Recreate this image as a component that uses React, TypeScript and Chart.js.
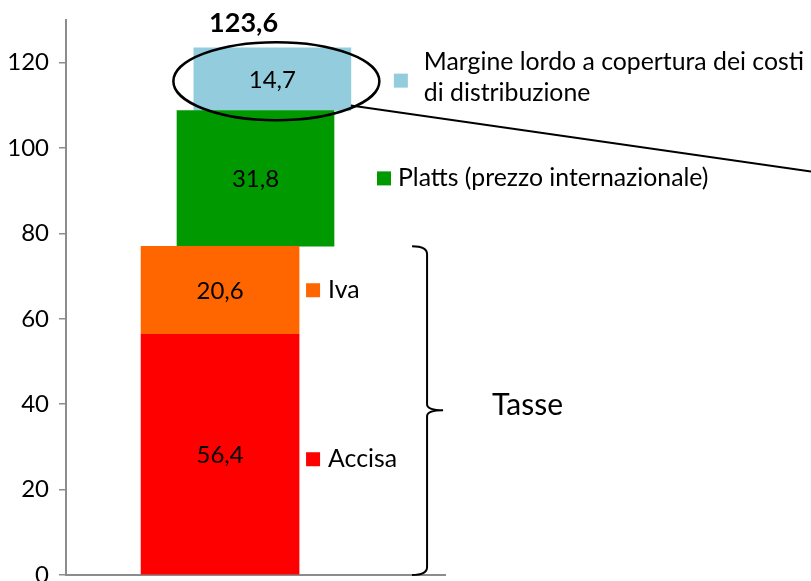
import React, { useEffect, useRef } from 'react';
import { Chart, registerables } from 'chart.js';

Chart.register(...registerables);

// ---- data ----
const segmentNames = ['Accisa', 'Iva', 'Platts (prezzo internazionale)', 'Margine lordo a copertura dei costi di distribuzione'];
const legendLines = [['Accisa'], ['Iva'], ['Platts (prezzo internazionale)'], ['Margine lordo a copertura dei costi', 'di distribuzione']];
const segmentValues = [56.4, 20.6, 31.8, 14.7];
const valueLabels = ['56,4', '20,6', '31,8', '14,7'];
const totalLabel = '123,6';
const groupLabel = 'Tasse';
const yTickValues = [0, 20, 40, 60, 80, 100, 120];

// ---- styles / layout ----
const colors = ['#FF0000', '#FF6600', '#009900', '#93CDDD'];
const barCenters = [-0.187, -0.187, 0, 0.089];
const barThick = [158, 158, 157, 157];
const legendGap = [7, 7, 43, 43];
const legendTextGap = [22, 22, 21, 30];
const FONT = 'Lato, "Open Sans", sans-serif';

const W = 811;
const H = 581;

export default function App() {
  const ref = useRef<HTMLCanvasElement>(null);

  useEffect(() => {
    if (!ref.current) return;
    let acc = 0;
    const ranges = segmentValues.map((v) => {
      const r = [acc, acc + v];
      acc += v;
      return r;
    });

    const annot = {
      id: 'annot',
      afterDatasetsDraw(chart: any) {
        const ctx = chart.ctx as CanvasRenderingContext2D;
        const yS = chart.scales.y;
        const xS = chart.scales.x;
        const els = segmentValues.map((_, i) => chart.getDatasetMeta(i).data[0].getProps(['x', 'y', 'base', 'width'], true));
        ctx.save();
        ctx.fillStyle = '#000';
        ctx.textBaseline = 'middle';
        // value labels
        ctx.textAlign = 'center';
        ctx.font = `24px ${FONT}`;
        els.forEach((el: any, i: number) => {
          ctx.fillText(valueLabels[i], el.x, (el.y + el.base) / 2 + 1);
        });
        // total label
        ctx.font = `bold 27px ${FONT}`;
        ctx.fillText(totalLabel, xS.getPixelForValue(-0.063), els[3].y - 24);
        // legend entries
        ctx.textAlign = 'left';
        ctx.font = `24.8px ${FONT}`;
        els.forEach((el: any, i: number) => {
          const right = el.x + el.width / 2;
          const sx = right + legendGap[i];
          const mid = (el.y + el.base) / 2 + (i === 0 ? 5 : i === 3 ? 1.5 : 0);
          ctx.fillStyle = colors[i];
          ctx.fillRect(sx, mid - 7, 14, 14);
          ctx.fillStyle = '#000';
          const lines = legendLines[i];
          const lh = 31;
          lines.forEach((ln, k) => {
            const ly = mid + (k - (lines.length - 1) / 2) * lh - 3 * (lines.length - 1);
            ctx.fillText(ln, sx + legendTextGap[i], ly);
          });
        });
        // brace
        const topY = yS.getPixelForValue(ranges[1][1]);
        const botY = yS.getPixelForValue(0);
        const midY = (topY + botY) / 2 - 0.5;
        const bx0 = els[1].x + els[1].width / 2 + 113;
        const bx1 = bx0 + 15;
        const tip = bx0 + 31;
        ctx.strokeStyle = '#000';
        ctx.lineWidth = 2;
        ctx.beginPath();
        ctx.moveTo(bx0, topY);
        ctx.quadraticCurveTo(bx1, topY, bx1, topY + 8);
        ctx.lineTo(bx1, midY - 6);
        ctx.quadraticCurveTo(bx1, midY, tip, midY);
        ctx.moveTo(tip, midY);
        ctx.quadraticCurveTo(bx1, midY, bx1, midY + 6);
        ctx.lineTo(bx1, botY - 8);
        ctx.quadraticCurveTo(bx1, botY, bx0, botY);
        ctx.stroke();
        ctx.font = `30px ${FONT}`;
        ctx.fillText(groupLabel, tip + 49, midY - 5);
        // ellipse around top segment
        const b = els[3];
        const ecx = b.x + 4;
        const ecy = (b.y + b.base) / 2 + 2;
        ctx.lineWidth = 2.5;
        ctx.beginPath();
        ctx.ellipse(ecx, ecy, 103, 39, 0, 0, Math.PI * 2);
        ctx.stroke();
        // leader line
        const lx = b.x + b.width / 2;
        const ly = b.base - 5;
        ctx.lineWidth = 2;
        ctx.beginPath();
        ctx.moveTo(lx, ly);
        ctx.lineTo(W, ly + (W - lx) * 0.1432);
        ctx.stroke();
        ctx.restore();
      },
    };

    const chart = new Chart(ref.current, {
      type: 'bar',
      data: {
        datasets: segmentValues.map((_, i) => ({
          label: segmentNames[i],
          data: [{ x: barCenters[i], y: ranges[i] }],
          backgroundColor: colors[i],
          barThickness: barThick[i],
          grouped: false,
          borderWidth: 0,
        })),
      } as any,
      options: {
        responsive: false,
        animation: false,
        events: [],
        layout: { padding: { left: 0, right: 366, top: 20, bottom: 0 } },
        plugins: { legend: { display: false }, tooltip: { enabled: false } },
        scales: {
          x: {
            type: 'linear',
            min: -1,
            max: 1,
            offset: false,
            ticks: { display: false },
            grid: { display: false },
            border: { display: true, color: '#8C8C8C', width: 2 },
            afterFit: (s: any) => { s.height = 6; s.paddingLeft = 0; s.paddingRight = 0; },
          },
          y: {
            type: 'linear',
            min: 0,
            max: 130,
            afterBuildTicks: (s: any) => {
              s.ticks = yTickValues.map((v) => ({ value: v }));
            },
            ticks: {
              color: '#000',
              font: { family: FONT, size: 24 },
              padding: 10,
              callback: (v: any) => String(v),
            },
            grid: { drawOnChartArea: false, drawTicks: true, tickLength: 7, color: '#8C8C8C', lineWidth: 1.5 },
            border: { display: true, color: '#8C8C8C', width: 2 },
            afterFit: (s: any) => { s.width = 66; s.paddingTop = 0; s.paddingBottom = 0; },
          },
        },
      } as any,
      plugins: [annot],
    });
    return () => chart.destroy();
  }, []);

  return (
    <div style={{ position: 'absolute', left: 0, top: 0, width: W, height: H, background: '#fff' }}>
      <canvas ref={ref} width={W} height={H} style={{ display: 'block' }} />
    </div>
  );
}
